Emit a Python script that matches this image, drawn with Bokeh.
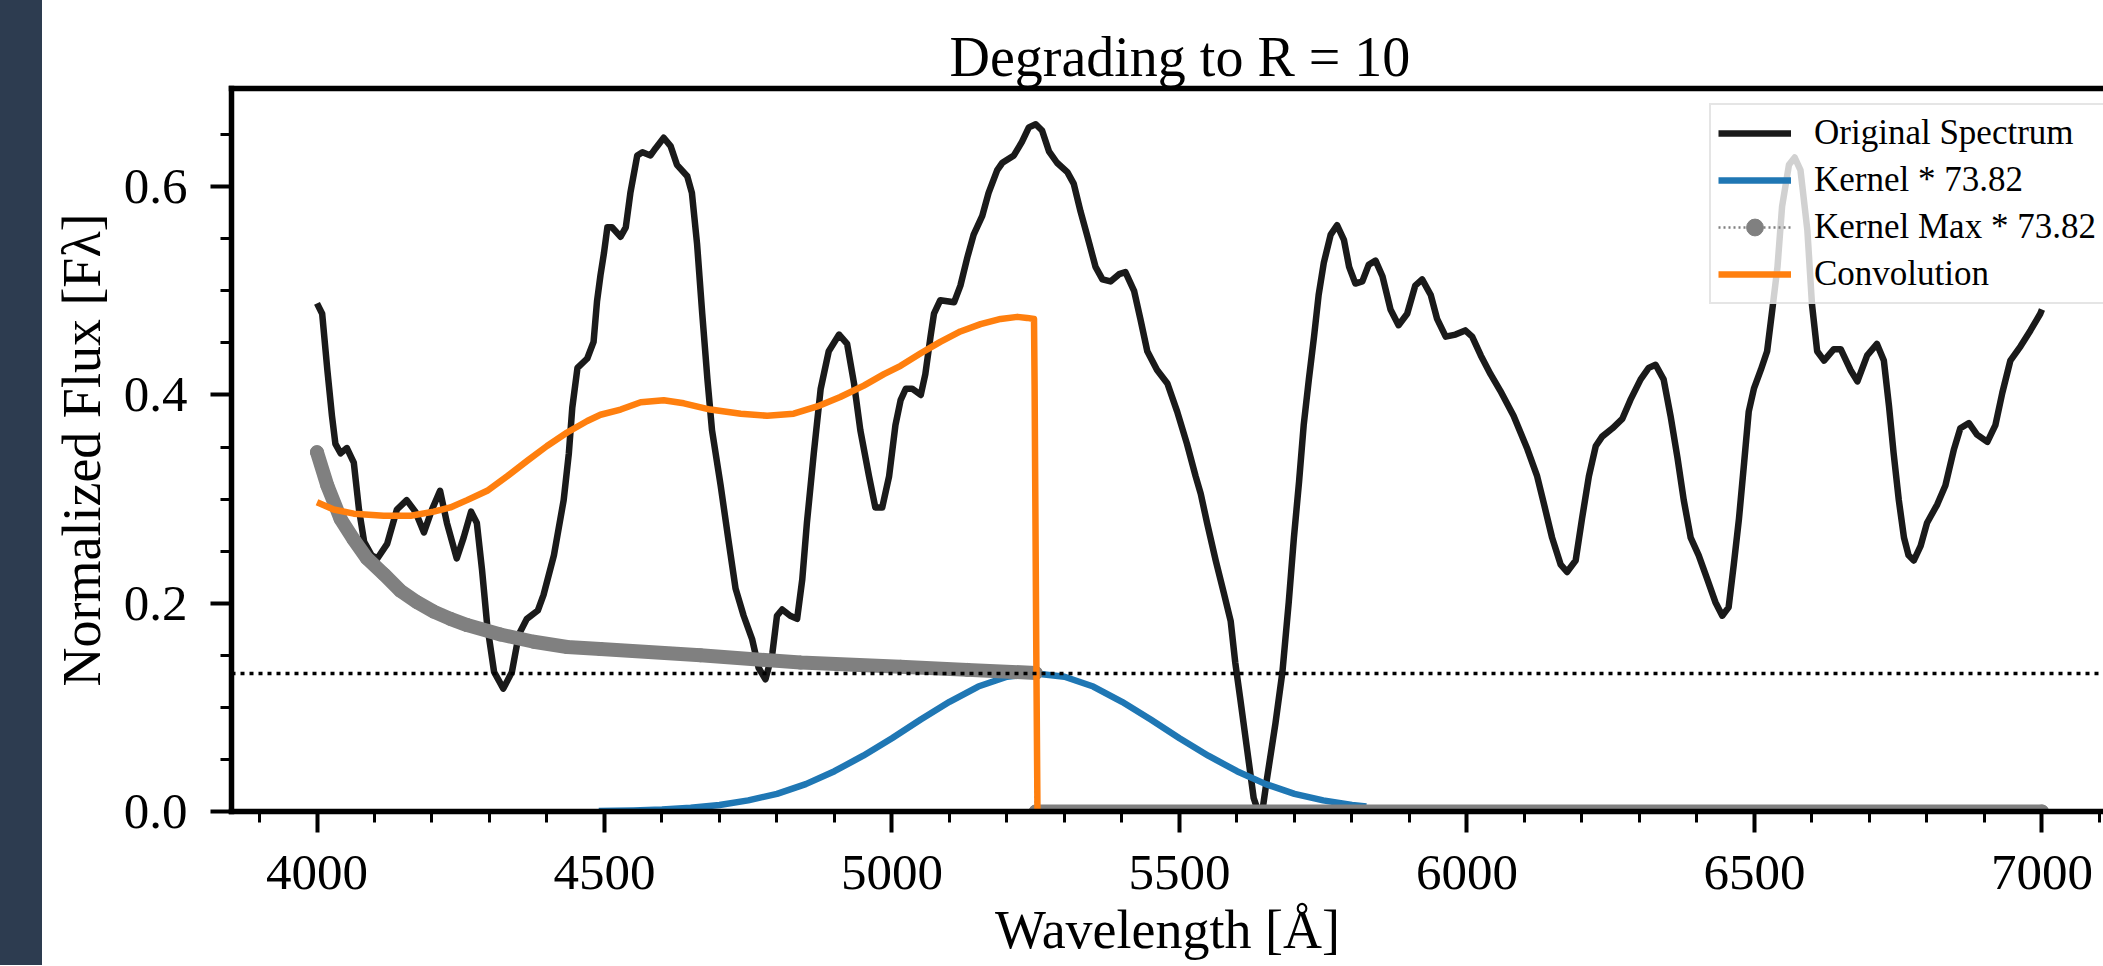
from bokeh.plotting import figure
from bokeh.models import (Range1d, FixedTicker, PrintfTickFormatter, LinearAxis,
                          Span, Legend, LegendItem, Div)
from bokeh.layouts import row
from bokeh.embed import file_html
from bokeh.resources import INLINE

# ---------------- data ----------------
spec_wl = [4000, 4009, 4018, 4026, 4032, 4041, 4052, 4064, 4073, 4082, 4095, 4105,
           4122, 4139, 4156, 4171, 4186, 4200, 4214, 4226, 4243, 4255, 4268, 4278,
           4287, 4296, 4308, 4324, 4339, 4351, 4365, 4384, 4394, 4412, 4429, 4438,
           4444, 4453, 4470, 4481, 4487, 4493, 4499, 4505, 4513, 4528, 4537, 4545,
           4557, 4566, 4580, 4589, 4603, 4615, 4626, 4644, 4652, 4661, 4670, 4679,
           4687, 4702, 4716, 4728, 4742, 4757, 4768, 4780, 4792, 4800, 4809, 4823,
           4835, 4844, 4852, 4864, 4876, 4890, 4908, 4922, 4934, 4945, 4960, 4971,
           4983, 4995, 5006, 5015, 5024, 5035, 5050, 5058, 5067, 5073, 5084, 5108,
           5119, 5131, 5142, 5157, 5168, 5183, 5192, 5212, 5226, 5238, 5250, 5261,
           5273, 5287, 5305, 5316, 5328, 5339, 5354, 5366, 5380, 5395, 5406, 5421,
           5432, 5444, 5461, 5479, 5496, 5513, 5528, 5537, 5548, 5563, 5577, 5589,
           5597, 5606, 5618, 5629, 5637, 5644, 5652, 5667, 5679, 5690, 5699, 5708,
           5716, 5725, 5734, 5742, 5751, 5763, 5774, 5786, 5795, 5806, 5818, 5829,
           5841, 5853, 5867, 5881, 5896, 5910, 5922, 5937, 5948, 5963, 5980, 5997,
           6009, 6024, 6041, 6058, 6081, 6105, 6122, 6134, 6148, 6163, 6174, 6189,
           6200, 6212, 6224, 6235, 6253, 6270, 6284, 6302, 6316, 6328, 6342, 6354,
           6366, 6377, 6389, 6403, 6418, 6432, 6444, 6455, 6464, 6473, 6482, 6490,
           6499, 6511, 6522, 6531, 6540, 6548, 6560, 6570, 6580, 6592, 6600, 6609,
           6621, 6638, 6650, 6667, 6679, 6696, 6713, 6725, 6734, 6742, 6751, 6760,
           6768, 6777, 6789, 6800, 6818, 6832, 6847, 6858, 6873, 6887, 6905, 6919,
           6931, 6945, 6963, 6980, 6997, 7000]
spec_flux = [0.488, 0.478, 0.424, 0.380, 0.353, 0.344, 0.349, 0.335, 0.290, 0.259, 0.246, 0.243,
             0.257, 0.290, 0.299, 0.288, 0.268, 0.290, 0.308, 0.277, 0.243, 0.263, 0.288, 0.277,
             0.232, 0.179, 0.134, 0.118, 0.134, 0.170, 0.185, 0.193, 0.208, 0.246, 0.299, 0.344,
             0.388, 0.426, 0.435, 0.451, 0.490, 0.515, 0.536, 0.561, 0.561, 0.552, 0.561, 0.594,
             0.630, 0.633, 0.630, 0.637, 0.647, 0.639, 0.621, 0.610, 0.594, 0.545, 0.478, 0.415,
             0.366, 0.313, 0.259, 0.214, 0.188, 0.165, 0.138, 0.127, 0.152, 0.188, 0.194, 0.188,
             0.185, 0.223, 0.277, 0.344, 0.406, 0.442, 0.458, 0.449, 0.411, 0.366, 0.322, 0.292,
             0.292, 0.322, 0.371, 0.395, 0.406, 0.406, 0.400, 0.420, 0.456, 0.478, 0.491, 0.489,
             0.505, 0.532, 0.554, 0.572, 0.594, 0.616, 0.623, 0.630, 0.643, 0.657, 0.660, 0.654,
             0.634, 0.623, 0.614, 0.603, 0.576, 0.554, 0.523, 0.511, 0.509, 0.516, 0.518, 0.500,
             0.473, 0.442, 0.424, 0.411, 0.384, 0.353, 0.322, 0.305, 0.277, 0.241, 0.210, 0.183,
             0.143, 0.107, 0.058, 0.013, 0.000, 0.000, 0.031, 0.085, 0.134, 0.201, 0.263, 0.317,
             0.371, 0.415, 0.456, 0.496, 0.527, 0.554, 0.563, 0.549, 0.523, 0.507, 0.509, 0.525,
             0.529, 0.514, 0.482, 0.467, 0.478, 0.505, 0.511, 0.496, 0.473, 0.456, 0.458, 0.462,
             0.456, 0.438, 0.420, 0.404, 0.380, 0.348, 0.322, 0.295, 0.263, 0.237, 0.230, 0.241,
             0.281, 0.322, 0.351, 0.360, 0.368, 0.377, 0.395, 0.415, 0.426, 0.429, 0.415, 0.380,
             0.340, 0.299, 0.263, 0.246, 0.223, 0.201, 0.188, 0.196, 0.237, 0.281, 0.335, 0.384,
             0.406, 0.424, 0.442, 0.482, 0.523, 0.581, 0.621, 0.628, 0.616, 0.558, 0.487, 0.442,
             0.433, 0.444, 0.444, 0.424, 0.413, 0.438, 0.449, 0.433, 0.389, 0.344, 0.299, 0.263,
             0.246, 0.241, 0.255, 0.277, 0.295, 0.313, 0.348, 0.368, 0.373, 0.362, 0.355, 0.371,
             0.402, 0.433, 0.447, 0.462, 0.478, 0.482]

kern_wl = [4490, 4550, 4600, 4650, 4700, 4750, 4800, 4850, 4900, 4950, 5000, 5050, 5100, 5150,
           5200, 5250, 5300, 5350, 5400, 5450, 5500, 5550, 5600, 5650, 5700, 5750, 5800, 5825]
kern_flux = [0.0004, 0.0009, 0.0019, 0.0037, 0.0063, 0.0107, 0.0170, 0.0263, 0.0387, 0.0536,
             0.0704, 0.0883, 0.1053, 0.1200, 0.1294, 0.1326, 0.1294, 0.1200, 0.1053, 0.0883,
             0.0704, 0.0536, 0.0387, 0.0263, 0.0170, 0.0107, 0.0063, 0.0048]

kmax_wl = [4000, 4018, 4041, 4064, 4087, 4116, 4145, 4174, 4203, 4232, 4261, 4319, 4377, 4435,
           4493, 4667, 4841, 5015, 5131, 5250, 5250, 7000]
kmax_flux = [0.345, 0.313, 0.281, 0.261, 0.243, 0.228, 0.212, 0.201, 0.192, 0.185, 0.179, 0.170,
             0.163, 0.158, 0.156, 0.150, 0.143, 0.139, 0.136, 0.133, 0.0, 0.0]

conv_wl = [4000, 4029, 4064, 4116, 4163, 4203, 4232, 4261, 4296, 4331, 4366, 4400, 4435, 4470,
           4493, 4528, 4563, 4603, 4638, 4684, 4737, 4783, 4829, 4870, 4910, 4951, 4986, 5015,
           5050, 5084, 5119, 5154, 5189, 5218, 5235, 5247, 5248, 5251, 5253]
conv_flux = [0.297, 0.290, 0.286, 0.284, 0.284, 0.288, 0.292, 0.299, 0.308, 0.322, 0.337, 0.351,
             0.364, 0.375, 0.381, 0.386, 0.393, 0.395, 0.392, 0.386, 0.382, 0.380, 0.382, 0.389,
             0.398, 0.409, 0.420, 0.428, 0.440, 0.451, 0.461, 0.468, 0.473, 0.475, 0.474, 0.473,
             0.410, 0.150, 0.0]

kernel_max_level = 0.1326

x_ticks = [4000, 4500, 5000, 5500, 6000, 6500, 7000]
x_minor = [3900 + 100 * i for i in range(33)]
y_ticks = [0.0, 0.2, 0.4, 0.6]
y_minor = [0.05 * i for i in range(14)]

title_text = "Degrading to R = 10"
xlabel_text = "Wavelength [Å]"
ylabel_text = "Normalized Flux [Fλ]"
legend_labels = ["Original Spectrum", "Kernel * 73.82", "Kernel Max * 73.82", "Convolution"]

# ---------------- styling ----------------
FONT = "Liberation Serif"
BLACK = "#1a1a1a"
BLUE = "#1f77b4"
ORANGE = "#ff7f0e"
GRAY = "#808080"
DARK = "#2d3c50"
H = 965
LW = 6.5

# split the kernel-max series into the decreasing band and the zero segment
band_wl = kmax_wl[:20] + [float("nan")] + kmax_wl[20:]
band_flux = kmax_flux[:20] + [float("nan")] + kmax_flux[20:]

p = figure(width=2061, height=H,
           x_range=Range1d(3851.3, 7107.0), y_range=Range1d(0.0, 0.6943),
           output_backend="svg", toolbar_location=None,
           min_border_left=189, min_border_right=0, min_border_top=88, min_border_bottom=H - 811,
           outline_line_color=None, background_fill_color="white", border_fill_color="white")
p.xgrid.visible = False
p.ygrid.visible = False

r_spec = p.line(spec_wl, spec_flux, line_color=BLACK, line_width=LW, line_join="round")
r_kern = p.line(kern_wl, kern_flux, line_color=BLUE, line_width=LW, line_join="round")
p.line(band_wl, band_flux, line_color=GRAY, line_width=14, line_join="round", line_cap="round")
r_kdot = p.line(kmax_wl, kmax_flux, line_color=GRAY, line_width=2.5, line_dash="2 3")
r_kmk = p.scatter(kmax_wl, kmax_flux, size=13, marker="circle", fill_color=GRAY, line_color=GRAY)
r_conv = p.line(conv_wl, conv_flux, line_color=ORANGE, line_width=LW, line_join="round")

p.add_layout(Span(location=kernel_max_level, dimension="width", line_color="black",
                  line_width=3.5, line_dash="4 5"))

for ax in (p.xaxis[0], p.yaxis[0]):
    ax.axis_line_width = 5.5
    ax.axis_line_color = "black"
    ax.axis_line_cap = "square"
    ax.major_tick_line_width = 4
    ax.major_tick_line_color = "black"
    ax.major_tick_out = 21
    ax.major_tick_in = 0
    ax.minor_tick_line_width = 3
    ax.minor_tick_line_color = "black"
    ax.minor_tick_out = 11
    ax.minor_tick_in = 0
    ax.major_label_text_font = FONT
    ax.major_label_text_font_size = "51px"
    ax.major_label_text_color = "black"
    ax.axis_label_text_font = FONT
    ax.axis_label_text_font_size = "54px"
    ax.axis_label_text_font_style = "normal"
    ax.axis_label_text_color = "black"

p.xaxis[0].ticker = FixedTicker(ticks=x_ticks, minor_ticks=x_minor)
p.xaxis[0].formatter = PrintfTickFormatter(format="%d")
p.xaxis[0].major_label_standoff = 23
p.xaxis[0].axis_label = xlabel_text
p.xaxis[0].axis_label_standoff = 8

p.yaxis[0].ticker = FixedTicker(ticks=y_ticks, minor_ticks=y_minor)
p.yaxis[0].formatter = PrintfTickFormatter(format="%.1f")
p.yaxis[0].major_label_standoff = 23
p.yaxis[0].axis_label = ylabel_text
p.yaxis[0].axis_label_standoff = 9

top_ax = LinearAxis(ticker=FixedTicker(ticks=[]), axis_line_width=5.5, axis_line_color="black",
                    axis_line_cap="square", major_tick_line_color=None, minor_tick_line_color=None,
                    major_tick_out=0, minor_tick_out=0, major_label_standoff=0,
                    major_label_text_font_size="0px")
p.add_layout(top_ax, "above")

p.title.text = title_text
p.title.text_font = FONT
p.title.text_font_size = "56px"
p.title.text_font_style = "normal"
p.title.text_color = "black"
p.title.align = "left"
p.title.offset = 718
p.title.standoff = 2

legend = Legend(items=[LegendItem(label=legend_labels[0], renderers=[r_spec]),
                       LegendItem(label=legend_labels[1], renderers=[r_kern]),
                       LegendItem(label=legend_labels[2], renderers=[r_kdot, r_kmk]),
                       LegendItem(label=legend_labels[3], renderers=[r_conv])],
                location=(1478, 507), margin=0, padding=7, spacing=5,
                glyph_width=73, glyph_height=42, label_height=42, label_standoff=23,
                label_text_font=FONT, label_text_font_size="35px", label_text_color="black",
                border_line_color="#cccccc", border_line_width=2,
                background_fill_color="white", background_fill_alpha=0.8)
p.add_layout(legend)

strip = Div(text="", width=42, height=H, margin=0, styles={"background-color": DARK})

layout = row(strip, p)
open("out.html", "w", encoding="utf-8").write(file_html(layout, INLINE, title="Degrading to R = 10"))
